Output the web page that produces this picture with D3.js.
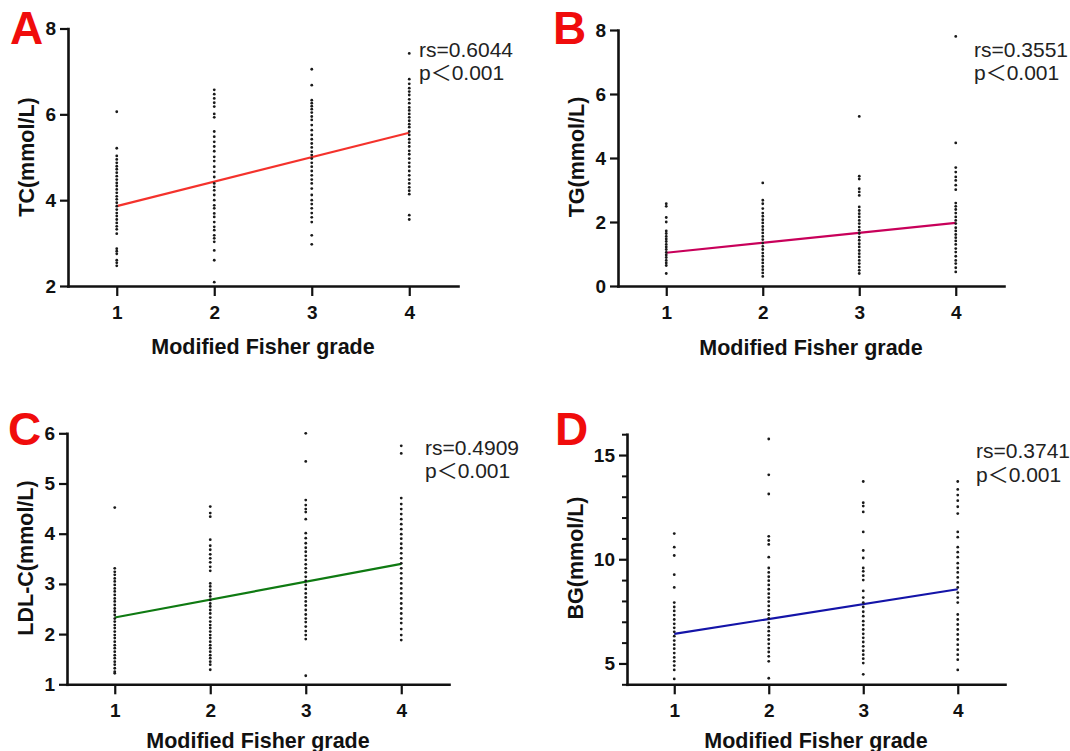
<!DOCTYPE html>
<html><head><meta charset="utf-8">
<script src="https://cdn.jsdelivr.net/npm/d3@7"></script>
<style>
body{margin:0;background:#fff}
svg{display:block}
text{font-family:"Liberation Sans",Arial,Helvetica,sans-serif}
</style>
</head><body>
<svg id="chart" width="1070" height="751"></svg>
<script>
// ---------- data ----------
const grades = [1, 2, 3, 4];
const xTitle = "Modified Fisher grade";
const panelLetters = ["A", "B", "C", "D"];
const yTitles = ["TC(mmol/L)", "TG(mmol/L)", "LDL-C(mmol/L)", "BG(mmol/L)"];
const rsTexts = ["rs=0.6044", "rs=0.3551", "rs=0.4909", "rs=0.3741"];
const pTexts = ["p＜0.001", "p＜0.001", "p＜0.001", "p＜0.001"];
const yDomains = [[2, 8], [0, 8], [1, 6], [4, 16]];
const yTickValues = [[2, 4, 6, 8], [0, 2, 4, 6, 8], [1, 2, 3, 4, 5, 6], [5, 10, 15]];
const yMinorTickValues = [[], [], [], [4, 6, 7, 8, 9, 11, 12, 13, 14, 16]];
const fitAtGrade1 = [3.86, 1.04, 2.33, 6.42];
const fitAtGrade4 = [5.57, 1.97, 3.40, 8.56];

// TC (mmol/L) by grade
const tc1 = [6.06,5.21,5.03,4.95,4.87,4.79,4.72,4.64,4.56,4.48,4.40,4.33,4.25,4.17,4.09,4.02,3.94,3.86,3.78,3.70,3.63,3.55,3.47,3.39,3.32,3.22,2.87,2.81,2.75,2.60,2.54,2.47];
const tc2 = [6.57,6.47,6.37,6.27,6.18,6.01,5.93,5.60,5.48,5.36,5.25,5.14,5.01,4.91,4.78,4.66,4.54,4.39,4.31,4.23,4.12,4.00,3.88,3.81,3.69,3.61,3.49,3.38,3.30,3.18,3.11,3.03,2.83,2.60,2.09];
const tc3 = [7.05,6.68,6.33,6.26,6.19,6.12,6.04,5.95,5.87,5.75,5.63,5.52,5.42,5.32,5.23,5.13,5.05,4.97,4.87,4.78,4.68,4.58,4.48,4.39,4.27,4.12,4.00,3.91,3.81,3.70,3.60,3.49,3.18,2.97];
const tc4 = [7.42,6.82,6.71,6.61,6.53,6.45,6.35,6.26,6.16,6.09,6.01,5.93,5.85,5.77,5.70,5.60,5.52,5.42,5.34,5.25,5.15,5.07,4.97,4.87,4.78,4.68,4.58,4.48,4.39,4.30,4.22,4.14,3.65,3.55];

// TG (mmol/L) by grade
const tg1 = [2.57,2.49,2.14,2.00,1.72,1.64,1.55,1.47,1.39,1.30,1.22,1.14,1.05,0.97,0.89,0.80,0.72,0.64,0.39];
const tg2 = [3.22,2.68,2.57,2.42,2.28,2.18,2.07,1.97,1.86,1.76,1.66,1.55,1.45,1.34,1.24,1.14,1.03,0.93,0.82,0.72,0.61,0.51,0.41,0.30];
const tg3 = [5.30,3.43,3.34,3.04,2.94,2.83,2.47,2.36,2.26,2.16,2.05,1.95,1.84,1.74,1.64,1.53,1.43,1.32,1.22,1.11,1.01,0.91,0.80,0.70,0.59,0.49,0.39];
const tg4 = [7.80,4.47,3.70,3.56,3.41,3.30,3.15,3.01,2.59,2.49,2.39,2.28,2.16,2.05,1.95,1.82,1.72,1.61,1.51,1.41,1.30,1.17,1.06,0.93,0.80,0.70,0.57,0.44];

// LDL-C (mmol/L) by grade
const ldl1 = [4.52,3.31,3.24,3.18,3.11,3.05,2.98,2.91,2.85,2.78,2.71,2.65,2.58,2.51,2.45,2.38,2.31,2.25,2.18,2.12,2.05,1.98,1.92,1.85,1.78,1.72,1.65,1.58,1.52,1.45,1.39,1.32,1.25,1.22];
const ldl2 = [4.54,4.41,4.34,3.88,3.76,3.68,3.59,3.51,3.43,3.34,3.26,3.01,2.95,2.88,2.81,2.75,2.68,2.61,2.55,2.48,2.41,2.33,2.25,2.18,2.12,2.05,1.98,1.92,1.85,1.78,1.72,1.65,1.58,1.52,1.45,1.39,1.29];
const ldl3 = [6.00,5.44,4.67,4.57,4.49,4.43,4.29,4.01,3.91,3.81,3.72,3.64,3.56,3.48,3.39,3.31,3.23,3.14,3.06,2.98,2.90,2.81,2.73,2.65,2.57,2.48,2.39,2.31,2.24,2.15,2.06,1.98,1.90,1.17];
const ldl4 = [5.75,5.60,4.71,4.59,4.49,4.39,4.29,4.19,4.09,3.99,3.90,3.80,3.71,3.61,3.51,3.41,3.31,3.21,3.11,3.01,2.91,2.81,2.71,2.61,2.51,2.41,2.31,2.22,2.10,1.98,1.88];

// BG (mmol/L) by grade
const bg1 = [11.23,10.58,10.18,9.26,8.65,7.92,7.71,7.52,7.32,7.11,6.90,6.71,6.52,6.31,6.10,5.90,5.71,5.50,5.29,5.10,4.90,4.69,4.26];
const bg2 = [15.77,14.05,13.13,11.10,10.90,10.71,10.10,9.58,9.37,9.16,8.97,8.77,8.56,8.35,8.16,7.97,7.76,7.55,7.35,7.16,6.95,6.74,6.55,6.35,6.15,5.94,5.74,5.55,5.34,5.10,4.29];
const bg3 = [13.73,12.71,12.55,12.27,11.31,10.42,10.06,9.58,9.42,9.21,9.00,8.48,8.16,7.92,7.71,7.48,7.27,7.03,6.84,6.63,6.42,6.23,6.03,5.82,5.61,5.42,5.23,5.02,4.48];
const bg4 = [13.73,13.35,13.08,12.81,12.52,12.19,11.31,11.06,10.58,10.34,10.10,9.81,9.58,9.37,9.13,8.89,8.65,8.40,8.16,7.92,7.35,7.11,6.87,6.63,6.39,6.15,5.90,5.66,5.42,5.18,4.69];

const seriesByPanel = [[tc1, tc2, tc3, tc4], [tg1, tg2, tg3, tg4], [ldl1, ldl2, ldl3, ldl4], [bg1, bg2, bg3, bg4]];

// ---------- layout / style ----------
const lineColors = ["#f4322c", "#c8005a", "#0f7a12", "#1414a8"];
const layout = [
  {x0: 68, x1: 458, yb: 286, yt: 28.5, letter: [10, 44], yTitle: [34, 157], xTitleY: 354, rs: [419, 57, 80]},
  {x0: 618, x1: 1004, yb: 286, yt: 30, letter: [553, 44], yTitle: [584, 157], xTitleY: 355, rs: [974, 57, 80]},
  {x0: 67, x1: 449, yb: 684.3, yt: 433.3, letter: [8, 445], yTitle: [33, 558], xTitleY: 748, rs: [425, 455, 478]},
  {x0: 627, x1: 1005, yb: 684.3, yt: 434.2, letter: [555, 445], yTitle: [583, 558], xTitleY: 748, rs: [976, 458, 482]}
];

const svg = d3.select("#chart");
svg.append("rect").attr("width", 1070).attr("height", 751).attr("fill", "#fff");

layout.forEach((L, i) => {
  const g = svg.append("g");
  const x = d3.scaleLinear().domain([0.5, 4.5]).range([L.x0, L.x1]);
  const y = d3.scaleLinear().domain(yDomains[i]).range([L.yb, L.yt]);

  // fit line
  g.append("line")
    .attr("x1", x(grades[0])).attr("y1", y(fitAtGrade1[i]))
    .attr("x2", x(grades[3])).attr("y2", y(fitAtGrade4[i]))
    .attr("stroke", lineColors[i]).attr("stroke-width", 2.2);

  // dots
  seriesByPanel[i].forEach((vals, k) => {
    g.selectAll(null).data(vals).enter().append("circle")
      .attr("cx", x(grades[k])).attr("cy", d => y(d))
      .attr("r", 1.4).attr("fill", "#1a1a1a");
  });

  // minor y ticks
  if (yMinorTickValues[i].length) {
    g.append("g").attr("transform", `translate(${L.x0},0)`)
      .call(d3.axisLeft(y).tickValues(yMinorTickValues[i]).tickSize(5).tickSizeOuter(0).tickFormat(""))
      .call(a => a.select(".domain").remove())
      .call(a => a.selectAll("line").attr("stroke", "#111").attr("stroke-width", 2));
  }

  // y axis
  g.append("g").attr("transform", `translate(${L.x0},0)`)
    .call(d3.axisLeft(y).tickValues(yTickValues[i]).tickSize(8).tickPadding(4).tickSizeOuter(0).tickFormat(d3.format("d")))
    .call(a => a.select(".domain").attr("stroke", "#111").attr("stroke-width", 2.6).attr("stroke-linecap", "square"))
    .call(a => a.selectAll("line").attr("stroke", "#111").attr("stroke-width", 2.2))
    .call(a => a.selectAll("text").attr("font-size", 19).attr("font-weight", "bold").attr("fill", "#111"));

  // x axis
  g.append("g").attr("transform", `translate(0,${L.yb})`)
    .call(d3.axisBottom(x).tickValues(grades).tickSize(10).tickPadding(9.5).tickSizeOuter(0).tickFormat(d3.format("d")))
    .call(a => a.select(".domain").attr("stroke", "#111").attr("stroke-width", 2.6).attr("stroke-linecap", "square"))
    .call(a => a.selectAll("line").attr("stroke", "#111").attr("stroke-width", 2.2))
    .call(a => a.selectAll("text").attr("font-size", 19).attr("font-weight", "bold").attr("fill", "#111"));

  // axis titles
  g.append("text").attr("x", (L.x0 + L.x1) / 2).attr("y", L.xTitleY)
    .attr("text-anchor", "middle").attr("font-size", 21.5).attr("font-weight", "bold").attr("fill", "#111")
    .text(xTitle);
  g.append("text").attr("transform", `translate(${L.yTitle[0]},${L.yTitle[1]}) rotate(-90)`)
    .attr("text-anchor", "middle").attr("font-size", 21.5).attr("font-weight", "bold").attr("fill", "#111")
    .text(yTitles[i]);

  // stats
  g.append("text").attr("x", L.rs[0]).attr("y", L.rs[1]).attr("font-size", 21).attr("fill", "#222").text(rsTexts[i]);
  g.append("text").attr("x", L.rs[0]).attr("y", L.rs[2]).attr("font-size", 21).attr("fill", "#222")
    .style("font-family", '"Liberation Sans", "Noto Sans CJK SC", sans-serif')
    .text(pTexts[i]);

  // panel letter
  g.append("text").attr("x", L.letter[0]).attr("y", L.letter[1])
    .attr("font-size", 46).attr("font-weight", "bold").attr("fill", "#f00c0c")
    .text(panelLetters[i]);
});
</script>
</body></html>
